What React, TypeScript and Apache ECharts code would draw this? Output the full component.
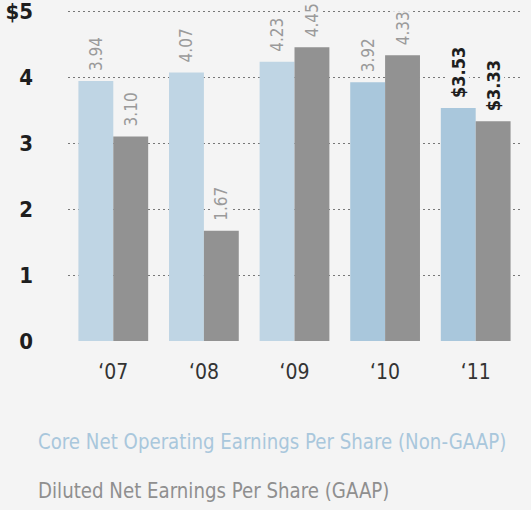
import React, { useEffect, useRef } from 'react';
import * as echarts from 'echarts';

const categories = ['‘07', '‘08', '‘09', '‘10', '‘11'];
const coreEps = [3.94, 4.07, 4.23, 3.92, 3.53];
const dilutedEps = [3.1, 1.67, 4.45, 4.33, 3.33];
const yTickLabels = ['0', '1', '2', '3', '4', '$5'];
const seriesNames = [
  'Core Net Operating Earnings Per Share (Non-GAAP)',
  'Diluted Net Earnings Per Share (GAAP)',
];

const FONT = '"DejaVu Sans Condensed", "Roboto", sans-serif';
const BG = '#f4f4f4';
const LIGHT_A = '#bfd5e4';
const LIGHT_B = '#a9c7dc';
const GRAY = '#929292';

export default function App() {
  const ref = useRef<HTMLDivElement>(null);
  useEffect(() => {
    document.body.style.margin = '0';
    document.body.style.background = BG;
    const chart = echarts.init(ref.current!, null, { renderer: 'svg' });
    const last = categories.length - 1;
    const mkLabel = (idx: number) =>
      idx === last
        ? { color: '#1e1e1e', fontWeight: 'bold' as const, fontSize: 18 }
        : { color: '#9a9a9a', fontWeight: 'normal' as const };
    const baseLabel = {
      show: true,
      position: 'top' as const,
      rotate: 90,
      align: 'left' as const,
      verticalAlign: 'middle' as const,
      distance: 8,
      fontFamily: FONT,
      fontSize: 17,
      backgroundColor: BG,
      padding: [2, 0, 2, 2],
      formatter: (p: any) =>
        p.dataIndex === last ? '$' + Number(p.value).toFixed(2) : Number(p.value).toFixed(2),
    };
    chart.setOption({
      animation: false,
      backgroundColor: BG,
      grid: { left: 68, right: 10, top: 11, height: 330 },
      xAxis: {
        type: 'category',
        data: categories,
        axisLine: { show: false },
        axisTick: { show: false },
        axisLabel: { color: '#333', fontFamily: FONT, fontSize: 21, margin: 20 },
      },
      yAxis: {
        type: 'value',
        min: 0,
        max: 5,
        interval: 1,
        axisLine: { show: false },
        axisTick: { show: false },
        axisLabel: {
          color: '#1e1e1e',
          fontFamily: FONT,
          fontSize: 22,
          fontWeight: 'bold',
          margin: 35,
          padding: [4, 0, 0, 0],
          formatter: (v: number) => yTickLabels[Math.round(v)],
        },
        splitLine: {
          show: true,
          lineStyle: {
            color: ['rgba(0,0,0,0)', '#777', '#777', '#777', '#777', '#777'],
            type: [2, 3],
            width: 1,
          },
        },
      },
      series: [
        {
          name: seriesNames[0],
          type: 'bar',
          barGap: '0%',
          barCategoryGap: '23%',
          data: coreEps.map((v, i) => ({
            value: v,
            itemStyle: { color: i >= 3 ? LIGHT_B : LIGHT_A },
            label: mkLabel(i),
          })),
          label: baseLabel,
        },
        {
          name: seriesNames[1],
          type: 'bar',
          barGap: '0%',
          barCategoryGap: '23%',
          data: dilutedEps.map((v, i) => ({
            value: v,
            itemStyle: { color: GRAY },
            label: mkLabel(i),
          })),
          label: baseLabel,
        },
      ],
      graphic: [
        {
          type: 'text',
          x: 38,
          y: 430,
          scaleX: 0.92,
          style: { text: seriesNames[0], fill: LIGHT_B, font: `22px ${FONT}` },
        },
        {
          type: 'text',
          x: 38,
          y: 479,
          scaleX: 0.92,
          style: { text: seriesNames[1], fill: '#8f8f8f', font: `22px ${FONT}` },
        },
      ],
    });
    return () => chart.dispose();
  }, []);
  return <div ref={ref} style={{ width: 531, height: 510 }} />;
}
